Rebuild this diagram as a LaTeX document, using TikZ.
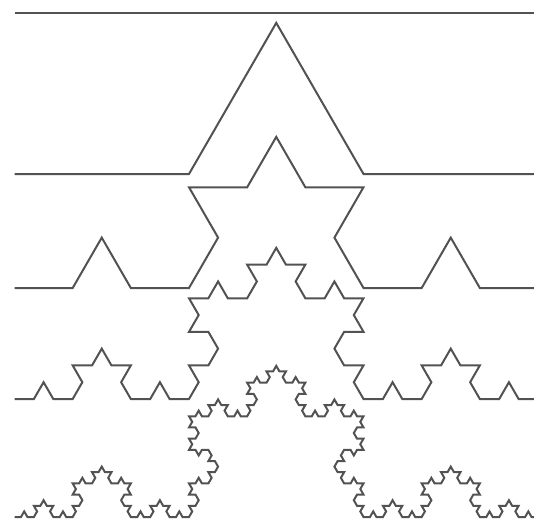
\documentclass[tikz,border=0pt]{standalone}
\usetikzlibrary{lindenmayersystems}
\pgfdeclarelindenmayersystem{Koch}{\rule{F -> F+F--F+F}}
\begin{document}
\begin{tikzpicture}[x=1pt,y=1pt,
  koch/.style={draw=black!68, line width=2pt, line join=miter}]
\useasboundingbox (0,0) rectangle (534,523);
\clip (0,0) rectangle (534,523);
% iteration 0
\draw[koch] (14.5,509.5) -- (540,509.5);
% iteration 1
\begin{scope}[shift={(14.5,349)}]
\draw[koch, l-system={Koch, axiom=F, order=1, step=174.5pt, angle=60}] (0,0) lindenmayer system;
\end{scope}
% iteration 2
\begin{scope}[shift={(14.5,235)}]
\draw[koch, l-system={Koch, axiom=F, order=2, step=58.1667pt, angle=60}] (0,0) lindenmayer system;
\end{scope}
% iteration 3
\begin{scope}[shift={(14.5,124)}]
\draw[koch, l-system={Koch, axiom=F, order=3, step=19.3889pt, angle=60}] (0,0) lindenmayer system;
\end{scope}
% iteration 4
\begin{scope}[shift={(14.5,6)}]
\draw[koch, l-system={Koch, axiom=F, order=4, step=6.463pt, angle=60}] (0,0) lindenmayer system;
\end{scope}
\end{tikzpicture}
\end{document}
